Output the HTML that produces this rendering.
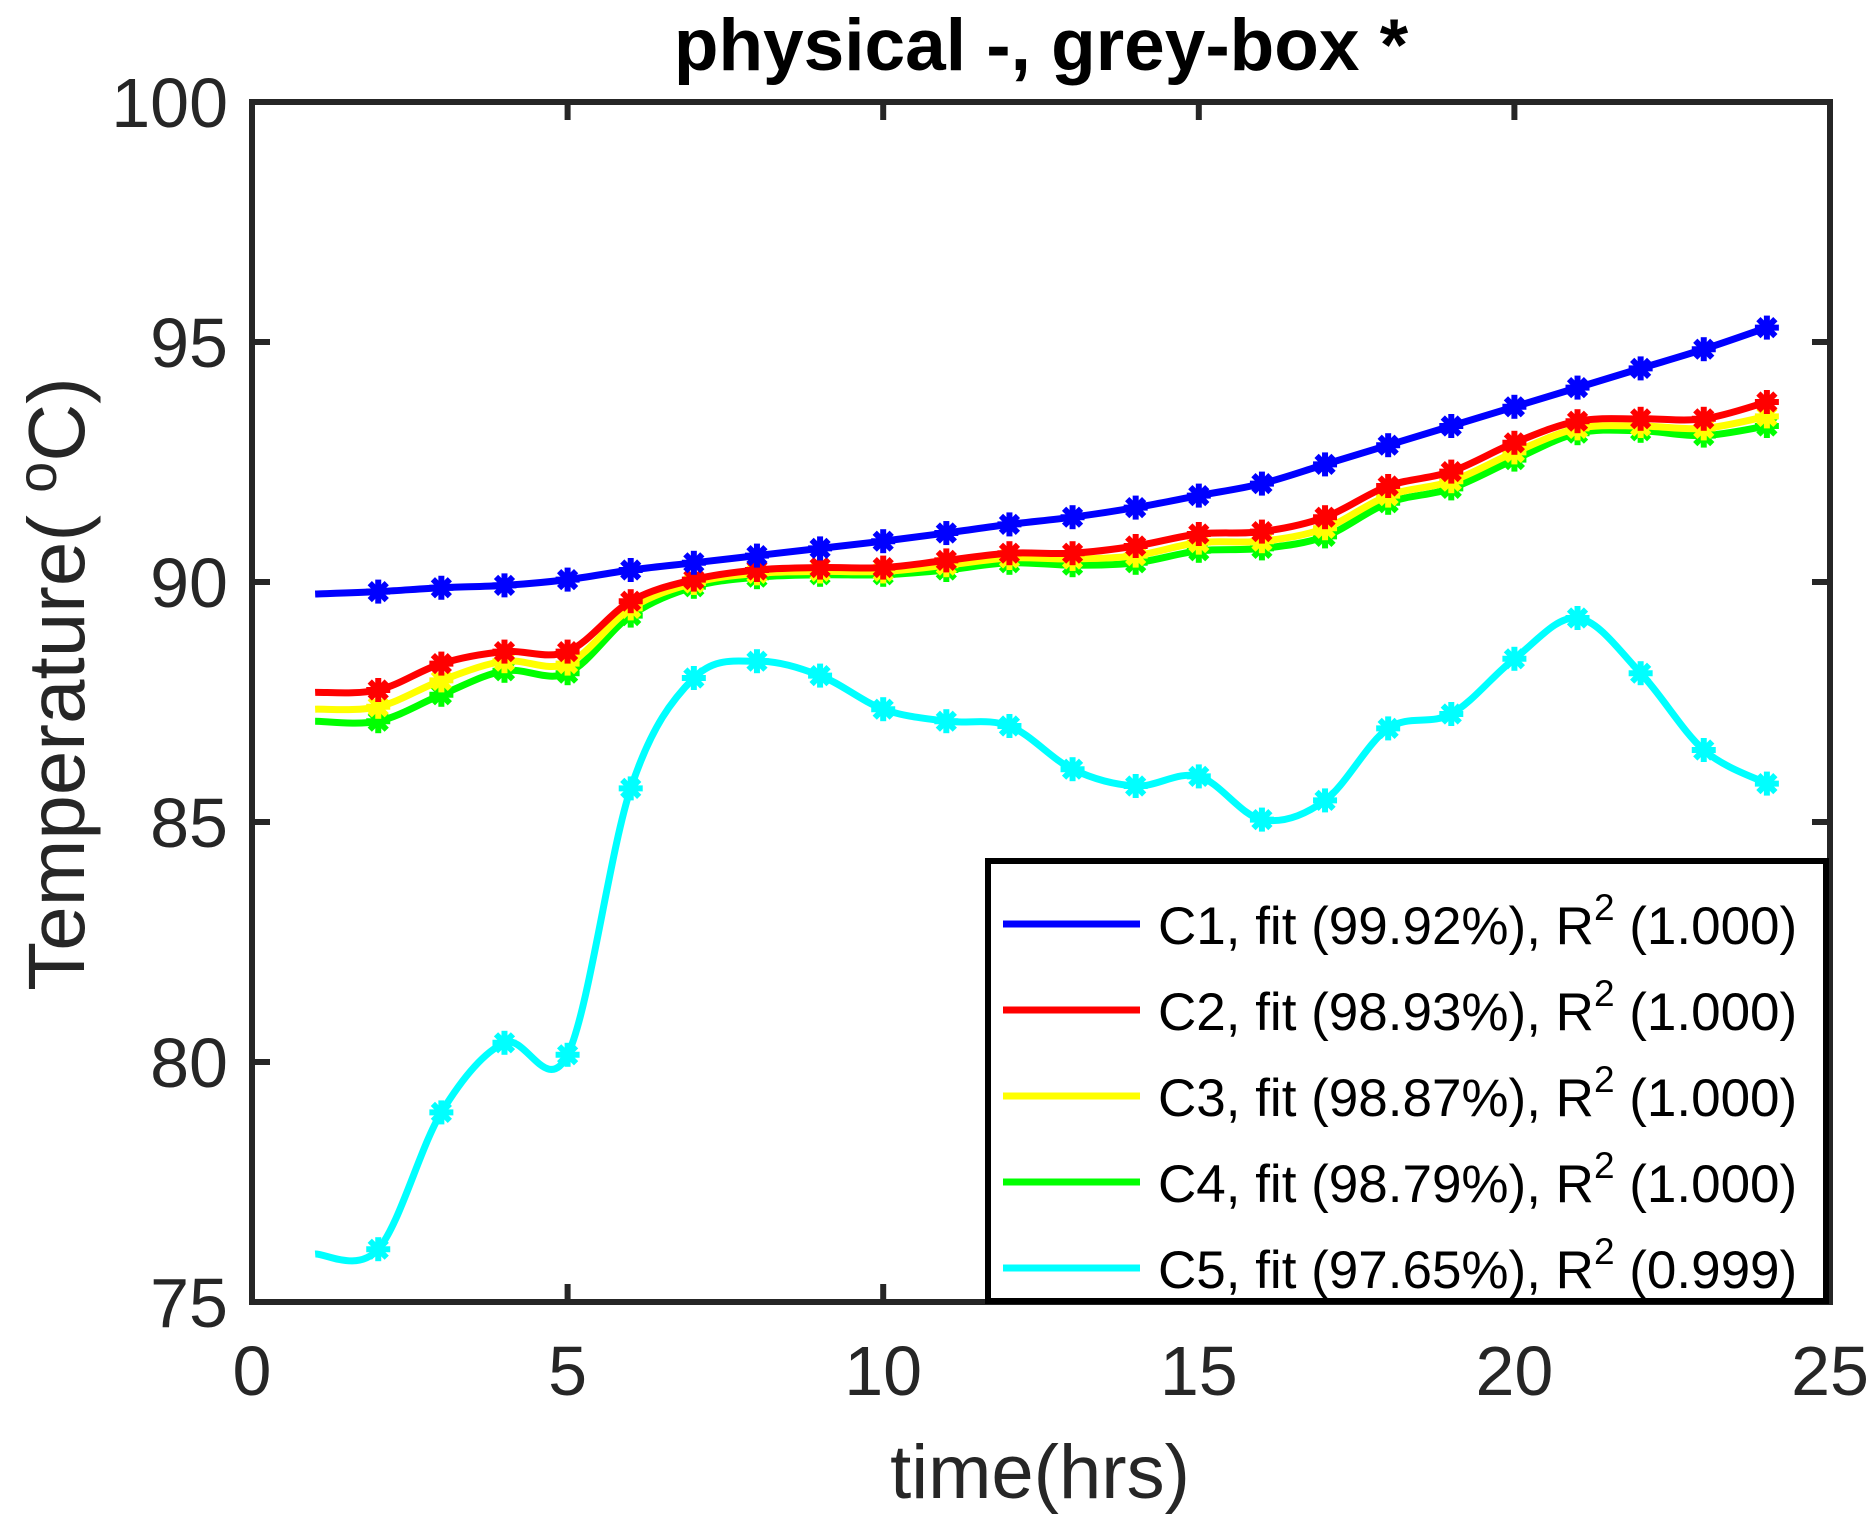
<!DOCTYPE html>
<html><head><meta charset="utf-8"><style>
html,body{margin:0;padding:0;background:#fff;}
svg{display:block;font-family:"Liberation Sans",Arial,sans-serif;}
</style></head><body>
<svg id="chart" width="1875" height="1525" viewBox="0 0 1875 1525" xmlns="http://www.w3.org/2000/svg">
<rect x="0" y="0" width="1875" height="1525" fill="#fff"/>
<text x="1041" y="70" text-anchor="middle" font-size="73" font-weight="bold" fill="#000">physical -, grey-box *</text>
<g id="plot"></g>
<g id="axes"></g>
<text x="1040" y="1498" text-anchor="middle" font-size="76" fill="#262626">time(hrs)</text>
<text transform="translate(84,684) rotate(-90)" text-anchor="middle" font-size="80" fill="#262626">Temperature( <tspan dy="-28" font-size="56">o</tspan><tspan dy="28">C)</tspan></text>
<g id="legend"></g>
</svg>
<script>
const hours=[1,2,3,4,5,6,7,8,9,10,11,12,13,14,15,16,17,18,19,20,21,22,23,24];
const c1=[89.75,89.8,89.88,89.93,90.05,90.25,90.4,90.55,90.7,90.85,91.02,91.2,91.35,91.55,91.8,92.05,92.45,92.85,93.25,93.65,94.05,94.45,94.85,95.3];
const c2=[87.7,87.75,88.3,88.55,88.55,89.6,90.05,90.25,90.3,90.3,90.45,90.6,90.6,90.75,91.0,91.05,91.35,92.0,92.3,92.9,93.35,93.4,93.4,93.75];
const c3=[87.35,87.4,87.95,88.35,88.3,89.45,89.98,90.18,90.22,90.22,90.35,90.5,90.48,90.55,90.82,90.85,91.12,91.8,92.1,92.7,93.2,93.25,93.2,93.45];
const c4=[87.1,87.1,87.65,88.15,88.1,89.3,89.9,90.1,90.15,90.15,90.25,90.4,90.35,90.4,90.65,90.7,90.95,91.65,91.95,92.55,93.1,93.15,93.05,93.25];
const c5=[76.0,76.1,78.95,80.4,80.15,85.7,88.0,88.35,88.05,87.35,87.1,87.0,86.1,85.75,85.95,85.05,85.45,86.95,87.25,88.4,89.25,88.1,86.5,85.8];
const seriesNames=["C1","C2","C3","C4","C5"];
const seriesColors=["#0000ff","#ff0000","#ffff00","#00ff00","#00ffff"];
const legendLabels=["C1, fit (99.92%), R","C2, fit (98.93%), R","C3, fit (98.87%), R","C4, fit (98.79%), R","C5, fit (97.65%), R"];
const legendR2=["(1.000)","(1.000)","(1.000)","(1.000)","(0.999)"];
const xTicks=[0,5,10,15,20,25];
const yTicks=[75,80,85,90,95,100];

const NS="http://www.w3.org/2000/svg";
const X0=252,X1=1830,Y0=102,Y1=1302;
const xs=v=>X0+(v-0)/(25-0)*(X1-X0);
const ys=v=>Y1-(v-75)/(100-75)*(Y1-Y0);
function mk(tag,attrs,parent){const e=document.createElementNS(NS,tag);for(const k in attrs)e.setAttribute(k,attrs[k]);parent.appendChild(e);return e;}
const plot=document.getElementById('plot'),axes=document.getElementById('axes'),leg=document.getElementById('legend');

function smoothPath(xv,yv){
  const p=xv.map((x,i)=>[xs(x),ys(yv[i])]);
  let d=`M${p[0][0]},${p[0][1]}`;
  for(let i=0;i<p.length-1;i++){
    const a=p[i-1]||p[i],b=p[i],c=p[i+1],e=p[i+2]||c;
    d+=` C${b[0]+(c[0]-a[0])/6},${b[1]+(c[1]-a[1])/6} ${c[0]-(e[0]-b[0])/6},${c[1]-(e[1]-b[1])/6} ${c[0]},${c[1]}`;
  }
  return d;
}
const all=[c1,c2,c3,c4,c5];
for(let s=all.length-1;s>=0;s--){
  const g=mk('g',{},plot);
  
  
  const path=mk('path',{d:smoothPath(hours,all[s]),fill:'none',stroke:seriesColors[s],'stroke-width':7}, g);
  
  
  for(let i=1;i<hours.length;i++){
    const cx=xs(hours[i]),cy=ys(all[s][i]),r=12;
    const m=mk('g',{stroke:seriesColors[s],'stroke-width':6},g);
    
    
    for(let k=0;k<4;k++){const a=k*Math.PI/4;mk('line',{x1:cx-r*Math.cos(a),y1:cy-r*Math.sin(a),x2:cx+r*Math.cos(a),y2:cy+r*Math.sin(a)},m);}
  }
}
const box=mk('rect',{x:X0,y:Y0,width:X1-X0,height:Y1-Y0,fill:'none',stroke:'#262626','stroke-width':6},axes);


xTicks.forEach(t=>{
  const x=xs(t);
  mk('line',{x1:x,y1:Y1,x2:x,y2:Y1-18,stroke:'#262626','stroke-width':6},axes);
  mk('line',{x1:x,y1:Y0,x2:x,y2:Y0+18,stroke:'#262626','stroke-width':6},axes);
  const tx=mk('text',{x:x,y:1395,'text-anchor':'middle','font-size':70,fill:'#262626'},axes);
  tx.textContent=t;
  
  
});
yTicks.forEach(t=>{
  const y=ys(t);
  mk('line',{x1:X0,y1:y,x2:X0+18,y2:y,stroke:'#262626','stroke-width':6},axes);
  mk('line',{x1:X1,y1:y,x2:X1-18,y2:y,stroke:'#262626','stroke-width':6},axes);
  const tx=mk('text',{x:228,y:y+25,'text-anchor':'end','font-size':70,fill:'#262626'},axes);
  tx.textContent=t;
  
  
});
const lb=mk('rect',{x:988,y:861,width:838,height:440,fill:'#fff',stroke:'#000','stroke-width':6},leg);


const ly=[924,1010,1096,1182,1268];
for(let s=0;s<5;s++){
  const g=mk('g',{},leg);
  
  
  mk('line',{x1:1003,y1:ly[s],x2:1140,y2:ly[s],stroke:seriesColors[s],'stroke-width':7},g);
  const t=mk('text',{x:1158,y:ly[s]+20,'font-size':53,fill:'#000'},g);
  t.innerHTML=legendLabels[s]+'<tspan dy="-24" font-size="37">2</tspan><tspan dy="24"> '+legendR2[s]+'</tspan>';
}
</script>
</body></html>
